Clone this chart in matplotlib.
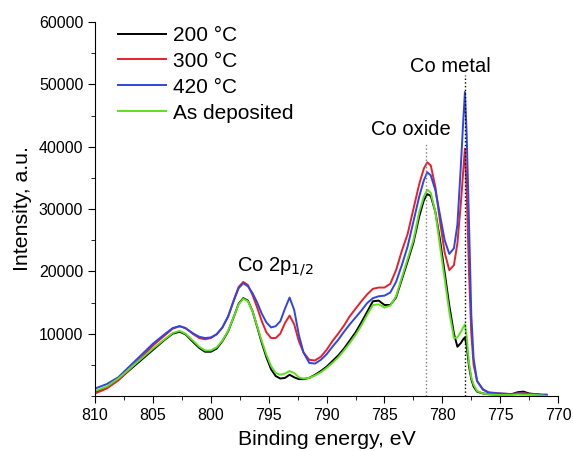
import numpy as np
import matplotlib.pyplot as plt
from matplotlib.ticker import MultipleLocator

plt.rcParams['font.family'] = ['Liberation Sans', 'DejaVu Sans']

# Binding energy grid (eV) shared by all spectra
energia = [810, 809, 808, 807, 806, 805, 804, 803.3, 802.7, 802.2, 801.5, 801,
           800.5, 800, 799.5, 799, 798.5, 798, 797.6, 797.2, 796.8, 796.4, 796,
           795.6, 795.2, 794.8, 794.4, 794, 793.6, 793.2, 792.8, 792.4, 792,
           791.5, 791, 790.5, 790, 789.5, 789, 788.5, 788, 787.5, 787, 786.5,
           786, 785.5, 785, 784.5, 784, 783.5, 783, 782.5, 782, 781.6, 781.3,
           781, 780.6, 780.2, 779.8, 779.4, 779, 778.7, 778.4, 778.2, 778.05,
           777.9, 777.7, 777.5, 777.3, 777, 776.5, 776, 775, 774, 773.5, 773,
           772.5, 772, 771.5, 771]

i_200 = [600, 1300, 2600, 4200, 5800, 7400, 9000, 10000, 10300, 9900, 8600, 7700,
         7100, 7100, 7600, 8800, 10400, 12800, 14800, 15700, 15300, 13600, 11100,
         8500, 6200, 4300, 3200, 2800, 2900, 3400, 3000, 2700, 2700,
         2900, 3400, 4000, 4700, 5600, 6500, 7600, 8900, 10200, 11800, 13500,
         15200, 15300, 14600, 14600, 15800, 18700, 21600, 24600, 28800, 31400, 32400,
         32100, 29500, 25000, 19800, 14500, 10000, 7900, 8500, 9100, 9400,
         8000, 4800, 2700, 1500, 700, 400, 300, 200, 300, 600, 700,
         400, 300, 200, 100]

i_300 = [400, 1200, 2500, 4300, 6200, 8100, 9700, 10800, 11200, 10900, 9900, 9300,
         9100, 9300, 9900, 11000, 12800, 15500, 17500, 18300, 17800, 16200, 14200,
         12000, 10200, 9300, 9300, 10000, 11700, 12900, 11500, 8800, 7000,
         5800, 5700, 6300, 7400, 8800, 10000, 11300, 12800, 14000, 15200, 16300,
         17200, 17400, 17400, 18000, 20200, 23300, 26000, 30000, 34000, 36500, 37500,
         37000, 33500, 28000, 23000, 20200, 21000, 24500, 31000, 36000, 39700,
         33000, 20000, 10000, 5000, 2400, 1000, 600, 400, 300, 400, 500,
         300, 300, 200, 200]

i_420 = [1200, 1900, 3000, 4800, 6600, 8400, 9900, 10900, 11200, 10900, 10000, 9500,
         9300, 9400, 9900, 11000, 12800, 15400, 17300, 18100, 17600, 16500, 15000,
         13200, 11800, 11000, 11200, 12000, 14000, 15800, 13800, 9800, 7000,
         5300, 5200, 5800, 6700, 7900, 9000, 10300, 11500, 12600, 13700, 14900,
         15700, 16000, 16100, 16600, 18300, 21000, 24000, 28000, 32000, 34600, 35900,
         35400, 33000, 29000, 25000, 22800, 23700, 27500, 37000, 44000, 48800,
         42000, 28000, 13000, 6000, 2400, 1100, 500, 400, 300, 400, 400,
         300, 300, 200, 200]

i_dep = [800, 1500, 2800, 4400, 6000, 7600, 9100, 10100, 10450, 10000, 8800, 7900,
         7300, 7300, 7800, 8900, 10500, 12800, 14700, 15600, 15200, 13600, 11200,
         8800, 6600, 4800, 3700, 3400, 3600, 4000, 3700, 3000, 2800,
         2900, 3300, 3800, 4500, 5300, 6200, 7300, 8500, 9800, 11300, 13000,
         14600, 14700, 14200, 14500, 16000, 19000, 22000, 25000, 29500, 32000, 33100,
         32600, 29500, 24000, 18800, 13500, 9300, 9400, 10300, 11000, 11500,
         9500, 5300, 3000, 1800, 800, 400, 250, 150, 150, 250, 200,
         200, 150, 100, 0]

etiquetas = ['200 °C', '300 °C', '420 °C', 'As deposited']
colores = ['black', '#e8202a', '#2f45e6', '#5fe01c']

# peak markers
pos_oxido, alto_oxido = 781.45, 40500
pos_metal, alto_metal = 778.05, 51500

fig = plt.figure(figsize=(5.73, 4.51), dpi=100)
ax = fig.add_axes([0.166, 0.122, 0.808, 0.829])

for serie, etiqueta, color in zip([i_200, i_300, i_420, i_dep], etiquetas, colores):
    ax.plot(energia, serie, color=color, lw=1.4, label=etiqueta)

ax.plot([pos_oxido, pos_oxido], [0, alto_oxido], ls=':', color='gray', lw=1)
ax.plot([pos_metal, pos_metal], [0, alto_metal], ls=':', color='black', lw=1)

ax.text(779.3, 52800, 'Co metal', ha='center', va='center', fontsize=14.5)
ax.text(782.75, 42700, 'Co oxide', ha='center', va='center', fontsize=14.5)
ax.text(794.4, 20800, 'Co 2p$_{1/2}$', ha='center', va='center', fontsize=14.5)

ax.set_xlim(810, 770)
ax.set_ylim(0, 60000)
ax.xaxis.set_major_locator(MultipleLocator(5))
ax.xaxis.set_minor_locator(MultipleLocator(2.5))
ax.set_yticks([10000, 20000, 30000, 40000, 50000, 60000])
ax.yaxis.set_minor_locator(MultipleLocator(5000))
ax.tick_params(which='major', direction='out', length=5, labelsize=11.5)
ax.tick_params(which='minor', direction='out', length=3)
ax.spines['top'].set_visible(False)
ax.spines['right'].set_visible(False)

ax.set_xlabel('Binding energy, eV', fontsize=15.3, labelpad=5)
ax.set_ylabel('Intensity, a.u.', fontsize=15.3, labelpad=5)

ax.legend(loc='upper left', bbox_to_anchor=(0.01, 1.04), frameon=False,
          fontsize=15, handlelength=2.3, handletextpad=0.3, labelspacing=0.33)

plt.savefig('out.png')
